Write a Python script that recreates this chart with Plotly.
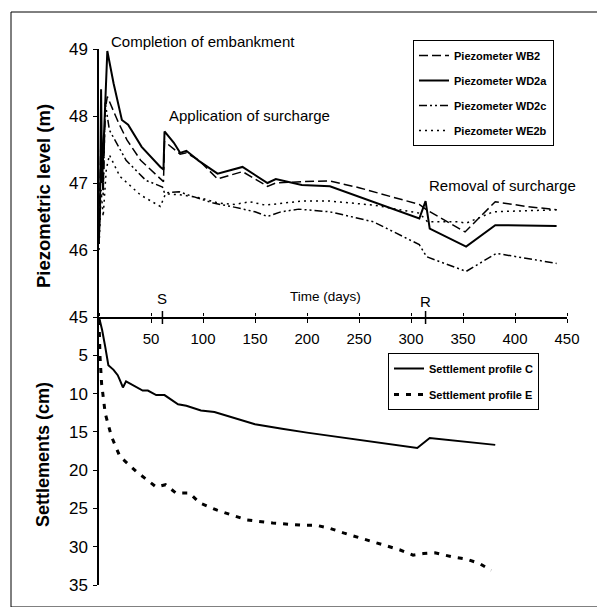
import plotly.graph_objects as go

# ---------------- data ----------------
# Piezometric levels (m) vs time (days)
wb2_day = [0, 2, 4, 6, 8, 19, 27, 40, 62, 63, 78, 84, 96, 114, 138, 162, 170, 195, 222, 250, 280, 308, 315, 352, 381, 411, 440]
wb2_lvl = [46.1, 47.8, 46.9, 48.1, 48.29, 47.89, 47.64, 47.34, 47.02, 47.62, 47.43, 47.45, 47.34, 47.06, 47.17, 46.95, 47.0, 47.02, 47.03, 46.93, 46.8, 46.68, 46.6, 46.27, 46.72, 46.65, 46.6]

wd2a_day = [0, 1, 2, 3, 5, 8, 14, 22, 28, 41, 59, 62, 63, 72, 78, 84, 96, 114, 138, 162, 170, 195, 222, 308, 314, 318, 353, 381, 440]
wd2a_lvl = [46.2, 46.6, 48.4, 47.0, 47.8, 48.97, 48.49, 47.94, 47.87, 47.54, 47.24, 47.2, 47.77, 47.6, 47.45, 47.48, 47.33, 47.14, 47.24, 47.0, 47.06, 46.97, 46.95, 46.47, 46.73, 46.32, 46.05, 46.37, 46.36]

wd2c_day = [0, 2, 4, 6, 10, 26, 45, 61, 63, 77, 90, 110, 130, 150, 162, 175, 192, 222, 264, 308, 315, 353, 382, 440]
wd2c_lvl = [46.1, 47.5, 46.8, 48.2, 47.79, 47.34, 47.04, 46.94, 46.85, 46.87, 46.8, 46.7, 46.64, 46.57, 46.5, 46.57, 46.61, 46.57, 46.42, 46.08, 45.9, 45.68, 45.95, 45.8]

we2b_day = [0, 2, 4, 7, 10, 20, 40, 59, 64, 80, 97, 115, 130, 145, 160, 177, 195, 222, 264, 308, 316, 346, 353, 379, 440]
we2b_lvl = [46.0, 46.9, 46.5, 47.2, 47.42, 47.1, 46.82, 46.65, 46.84, 46.82, 46.78, 46.7, 46.68, 46.72, 46.67, 46.7, 46.73, 46.73, 46.67, 46.55, 46.42, 46.42, 46.4, 46.57, 46.6]

# Settlements (cm) vs time (days)
setC_day = [0, 3, 6, 9, 14, 18, 20, 23, 26, 34, 42, 47, 55, 63, 76, 84, 98, 111, 131, 150, 176, 200, 306, 318, 381]
setC_cm = [0, 1.7, 3.9, 6.3, 6.9, 7.6, 8.2, 9.2, 8.4, 9.0, 9.6, 9.6, 10.2, 10.2, 11.4, 11.6, 12.2, 12.4, 13.2, 14.0, 14.6, 15.1, 17.1, 15.8, 16.7]

setE_day = [0, 1, 2.5, 6, 12, 20, 36, 55, 64, 74, 87, 97, 113, 142, 167, 196, 209, 222, 235, 247, 260, 273, 289, 302, 312, 323, 339, 353, 366, 377]
setE_cm = [0.4, 5.2, 8.7, 12.6, 15.6, 18.2, 20.2, 22.2, 21.9, 23.0, 23.0, 24.3, 25.2, 26.5, 26.9, 27.2, 27.2, 27.6, 28.2, 28.7, 29.2, 29.8, 30.4, 31.1, 30.9, 30.8, 31.3, 31.6, 32.2, 33.1]

event_days = [61, 314]
event_labels = ["S", "R"]

x_ticks = [0, 50, 100, 150, 200, 250, 300, 350, 400, 450]
x_ticktext = ["", "50", "100", "150", "200", "250", "300", "350", "400", "450"]
up_ticks = [45, 46, 47, 48, 49]
low_ticks = [0, 5, 10, 15, 20, 25, 30, 35]
low_ticktext = ["", "5", "10", "15", "20", "25", "30", "35"]

# ---------------- layout helpers ----------------
# figure sized to fit inside the page body (8px default body margin)
OFF = 8
W, H = 589, 599
def px(x):
    return (x - OFF) / W
def py(y):
    return 1 - (y - OFF) / H

FONT = "Arial, Liberation Sans, Helvetica, sans-serif"
fig = go.Figure()

def piezo(name, xs, ys, dash, width):
    fig.add_trace(go.Scatter(x=xs, y=ys, mode="lines", name="<b>" + name + "</b>",
                             line=dict(color="black", dash=dash, width=width),
                             xaxis="x", yaxis="y", legend="legend", legendgroup=name))

piezo("Piezometer WB2", wb2_day, wb2_lvl, "9px,4px", 1.5)
piezo("Piezometer WD2a", wd2a_day, wd2a_lvl, "solid", 2)
piezo("Piezometer WD2c", wd2c_day, wd2c_lvl, "8px,3px,2px,3px,2px,3px", 1.5)
piezo("Piezometer WE2b", we2b_day, we2b_lvl, "2px,4px", 1.5)

fig.add_trace(go.Scatter(x=setC_day, y=setC_cm, mode="lines", name="<b>Settlement profile C</b>",
                         line=dict(color="black", width=2), xaxis="x2", yaxis="y2",
                         legend="legend2", legendgroup="C"))
fig.add_trace(go.Scatter(x=setE_day, y=setE_cm, mode="lines", name="<b>Settlement profile E</b>",
                         line=dict(color="black", width=3, dash="5px,7px"), xaxis="x2", yaxis="y2",
                         legend="legend2", legendgroup="E"))

xdom = [px(99), px(567)]
tickfont = dict(family=FONT, size=15, color="black")
ytickfont = dict(family=FONT, size=17, color="black")

fig.update_layout(
    width=W, height=H, margin=dict(l=0, r=0, t=0, b=0, autoexpand=False),
    paper_bgcolor="white", plot_bgcolor="rgba(0,0,0,0)",
    font=dict(family=FONT, color="black"),
    xaxis=dict(domain=xdom, anchor="y", range=[0, 450], tickvals=x_ticks, ticktext=x_ticktext,
               showline=True, linecolor="black", linewidth=1.5, ticks="outside", ticklen=4,
               tickcolor="black", showgrid=False, zeroline=False, tickfont=tickfont,
               ticklabelstandoff=3),
    yaxis=dict(domain=[py(317), py(49)], anchor="x", range=[45, 49], tickvals=up_ticks,
               showline=True, linecolor="black", linewidth=1.5, ticks="outside", ticklen=4,
               tickcolor="black", showgrid=False, zeroline=False,
               tickfont=ytickfont, ticklabelstandoff=2),
    xaxis2=dict(domain=xdom, anchor="y2", side="top", range=[0, 450], tickvals=x_ticks,
                showticklabels=False, showline=False,
                ticks="outside", ticklen=3, tickcolor="black", showgrid=False, zeroline=False),
    yaxis2=dict(domain=[py(585), py(317)], anchor="x2", range=[35, 0], tickvals=low_ticks,
                ticktext=low_ticktext, showline=True, linecolor="black", linewidth=1.5,
                ticks="outside", ticklen=4, tickcolor="black", showgrid=False, zeroline=False,
                tickfont=ytickfont, ticklabelstandoff=2),
    legend=dict(x=px(413), y=py(40), xanchor="left", yanchor="top", bgcolor="white",
                bordercolor="black", borderwidth=1, traceorder="grouped", tracegroupgap=6,
                font=dict(family=FONT, size=11, color="black"), itemwidth=30),
    legend2=dict(x=px(388), y=py(353), xanchor="left", yanchor="top", bgcolor="white",
                 bordercolor="black", borderwidth=1, traceorder="grouped", tracegroupgap=7,
                 font=dict(family=FONT, size=11, color="black"), itemwidth=30),
    showlegend=True,
)

# outer frame
fig.add_shape(type="rect", xref="paper", yref="paper", x0=px(11), x1=px(598), y0=py(607), y1=py(12),
              line=dict(color="black", width=1))

# event markers S / R on the time axis
for d, lab, ly in zip(event_days, event_labels, [298, 301]):
    fig.add_shape(type="line", xref="x", yref="paper", x0=d, x1=d, y0=py(324), y1=py(311),
                  line=dict(color="black", width=1.5))
    fig.add_annotation(x=d, xref="x", y=py(ly), yref="paper", text=lab, showarrow=False,
                       font=dict(family=FONT, size=15, color="black"), xanchor="center", yanchor="middle")

annots = [
    ("Completion of embankment", 109, 41),
    ("Application of surcharge", 167, 116),
    ("Removal of surcharge", 427, 186),
]
for txt, x, y in annots:
    fig.add_annotation(x=px(x), y=py(y), xref="paper", yref="paper", text=txt, showarrow=False,
                       xanchor="left", yanchor="middle", font=dict(family=FONT, size=15, color="black"))

fig.add_annotation(x=px(325), y=py(296), xref="paper", yref="paper", text="Time (days)", showarrow=False,
                   xanchor="center", yanchor="middle", font=dict(family=FONT, size=13.5, color="black"))
fig.add_annotation(x=px(43), y=py(196), xref="paper", yref="paper", text="<b>Piezometric level (m)</b>",
                   showarrow=False, textangle=-90, xanchor="center", yanchor="middle",
                   font=dict(family=FONT, size=18.5, color="black"))
fig.add_annotation(x=px(43), y=py(455), xref="paper", yref="paper", text="<b>Settlements (cm)</b>",
                   showarrow=False, textangle=-90, xanchor="center", yanchor="middle",
                   font=dict(family=FONT, size=18, color="black"))

fig.write_html("out.html")
